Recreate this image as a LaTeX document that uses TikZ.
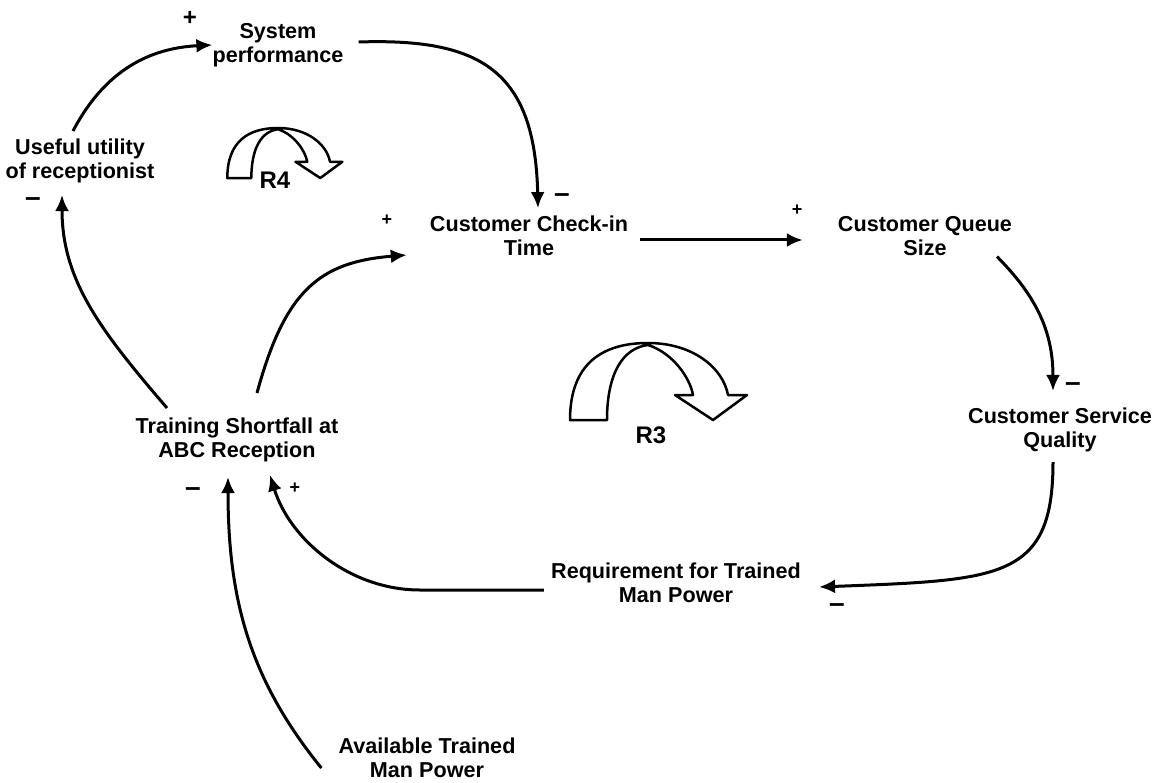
\documentclass[tikz,border=0pt]{standalone}
\usepackage{fontspec}
\setmainfont{Liberation Sans}
\usetikzlibrary{arrows.meta,calc}
\begin{document}
\begin{tikzpicture}[x=1pt,y=-1pt,
  lbl/.style={font=\fontsize{21.6}{23.5}\selectfont\bfseries, align=center, inner sep=0pt},
  sgn/.style={font=\fontsize{18}{18}\selectfont\bfseries, inner sep=0pt},
  neg/.style={font=\fontsize{28}{28}\selectfont\bfseries, inner sep=0pt},
  rlbl/.style={font=\fontsize{24}{24}\selectfont\bfseries, inner sep=0pt},
  arr/.style={line width=3pt, -{Latex[length=16pt,width=14pt]}},
  loopsym/.pic={
    \draw[line width=2.5pt, fill=white, line join=round]
      (-78,77) .. controls (-78,20) and (-45,0) .. (0,0)
      .. controls (45,0) and (75,25) .. (80,52)
      -- (99,52) -- (65,77) -- (27,52) -- (45,52)
      .. controls (42,35) and (25,10) .. (0,2)
      .. controls (-25,5) and (-41,30) .. (-41,77) -- cycle;
  }]
\useasboundingbox[fill=white] (0,0) rectangle (1164,783);

% variables
\node[lbl] (sys)      at (278,45)  {System\\performance};
\node[lbl] (useful)   at (80,161)  {Useful utility\\of receptionist};
\node[lbl] (checkin)  at (529,236) {Customer Check-in\\Time};
\node[lbl] (queue)    at (925,236) {Customer Queue\\Size};
\node[lbl] (service)  at (1060,430) {Customer Service\\Quality};
\node[lbl] (training) at (237,440) {Training Shortfall at\\ABC Reception};
\node[lbl] (req)      at (676,583) {Requirement for Trained\\Man Power};
\node[lbl] (avail)    at (427,758) {Available Trained\\Man Power};

% causal links
\draw[arr] ($(useful.north)+(-7,-8)$) .. controls (105,70) and (150,48) .. (sys.west);
\draw[arr] ($(sys.east)+(15,-3)$) .. controls (480,38) and (535,70) .. ($(checkin.north)+(9,-8)$);
\draw[arr] ($(training.north)+(20,-25)$) .. controls (285,290) and (320,262) .. ($(checkin.west)+(-23,19)$);
\draw[arr] ($(training.north)+(-70,-10)$) .. controls (100,330) and (62,280) .. ($(useful.south)+(-18,12)$);
\draw[arr] ($(checkin.east)+(12,4)$) -- ($(queue.west)+(-35,4)$);
\draw[arr] ($(queue.south)+(72,1)$) .. controls (1035,295) and (1053,330) .. ($(service.north)+(-7,-17)$);
\draw[arr] ($(service.south)+(-7,10)$) .. controls (1053,580) and (1000,580) .. ($(req.east)+(18,4)$);
\draw[arr] ($(req.west)+(-7,7)$) -- (420,590) .. controls (350,590) and (290,540) .. ($(training.south)+(33,13)$);
\draw[arr] ($(avail.west)+(-17,10)$) .. controls (250,680) and (228,600) .. ($(training.south)+(-9,15)$);

% polarity signs
\node[sgn, font=\fontsize{24}{24}\selectfont\bfseries] (s1) at (190,18) {+};
\node[neg] (s2) at (33,202)  {–};
\node[neg] (s3) at (562,198) {–};
\node[sgn] (s4) at (387,220) {+};
\node[sgn] (s5) at (797,210) {+};
\node[neg] (s6) at (1073,387) {–};
\node[neg] (s7) at (837,608) {–};
\node[neg] (s8) at (193,492) {–};
\node[sgn] (s9) at (295,488) {+};

% loop markers
\pic at (648,343) {loopsym};
\pic[scale=0.65] at (278,128) {loopsym};
\node[rlbl] (r3) at (651,435) {R3};
\node[rlbl] (r4) at (275,180) {R4};
\end{tikzpicture}
\end{document}
